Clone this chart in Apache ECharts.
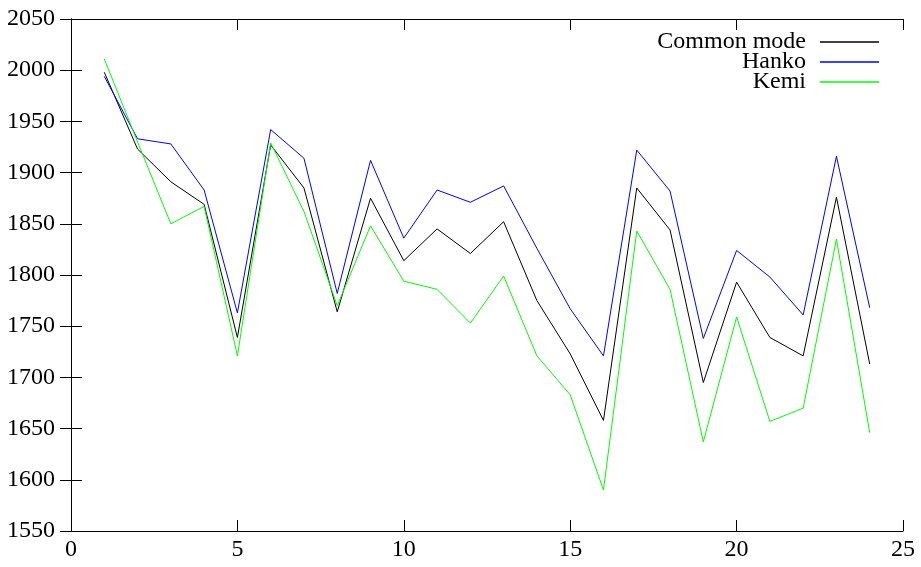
<!DOCTYPE html>
<html>
<head>
<meta charset="utf-8">
<script src="https://cdn.jsdelivr.net/npm/echarts@6/dist/echarts.min.js"></script>
<style>
  html, body { margin: 0; padding: 0; background: #fff; }
  #chart { width: 921px; height: 567px; }
</style>
</head>
<body>
<div id="chart"></div>
<script>
// station index along x
const xs = [1, 2, 3, 4, 5, 6, 7, 8, 9, 10, 11, 12, 13, 14, 15, 16, 17, 18, 19, 20, 21, 22, 23, 24];

const commonMode = [1998, 1923, 1891, 1869, 1739, 1927, 1885, 1764, 1875, 1814, 1845, 1821,
                    1852, 1775, 1723, 1658, 1885, 1844, 1695, 1793, 1739, 1721, 1876, 1713];
const hanko      = [1994, 1933, 1928, 1883, 1763, 1942, 1914, 1782, 1912, 1836, 1883, 1871,
                    1887, 1826, 1767, 1721, 1922, 1882, 1738, 1824, 1798, 1761, 1916, 1768];
const kemi       = [2011, 1930, 1850, 1867, 1721, 1929, 1862, 1770, 1848, 1794, 1786, 1753,
                    1799, 1721, 1683, 1590, 1843, 1786, 1637, 1759, 1657, 1670, 1835, 1646];

const FONT = '"Liberation Serif", "DejaVu Serif", serif';

function pairs(vals) {
    return xs.map((x, i) => [x, vals[i]]);
}

function mkSeries(name, vals, color) {
    return {
        name: name,
        type: 'line',
        data: pairs(vals),
        symbol: 'none',
        lineStyle: { color: color, width: 1 },
        itemStyle: { color: color },
        animation: false
    };
}

const plain = v => String(v);
const axisLine = { show: true, lineStyle: { color: '#000', width: 1 } };
const tickIn = { show: true, inside: true, length: 11, lineStyle: { color: '#000', width: 1 } };

const option = {
    backgroundColor: '#fff',
    animation: false,
    grid: { left: 71, right: 18, top: 19, bottom: 36 },
    legend: {
        orient: 'vertical',
        right: 37,
        top: 25,
        align: 'right',
        icon: 'rect',
        itemWidth: 59,
        itemHeight: 1.5,
        itemGap: -4,
        textStyle: { fontFamily: FONT, fontSize: 24, color: '#000', lineHeight: 20, padding: [0, 9, 0, 0] },
        data: ['Common mode', 'Hanko', 'Kemi']
    },
    xAxis: [
        {
            type: 'value', min: 0, max: 25, interval: 5, position: 'bottom',
            axisLine: axisLine, axisTick: tickIn, splitLine: { show: false },
            axisLabel: { fontFamily: FONT, fontSize: 24, color: '#000', margin: 7, formatter: plain }
        },
        {
            type: 'value', min: 0, max: 25, interval: 5, position: 'top',
            axisLine: axisLine, axisTick: tickIn, splitLine: { show: false },
            axisLabel: { show: false }
        }
    ],
    yAxis: [
        {
            type: 'value', min: 1550, max: 2050, interval: 50, position: 'left',
            axisLine: axisLine, axisTick: tickIn, splitLine: { show: false },
            axisLabel: { fontFamily: FONT, fontSize: 24, color: '#000', margin: 16, formatter: plain }
        },
        {
            type: 'value', min: 1550, max: 2050, interval: 50, position: 'right',
            axisLine: axisLine, axisTick: tickIn, splitLine: { show: false },
            axisLabel: { show: false }
        }
    ],
    series: [
        mkSeries('Common mode', commonMode, '#000000'),
        mkSeries('Hanko', hanko, '#0000ff'),
        mkSeries('Kemi', kemi, '#00ff00')
    ]
};

const chart = echarts.init(document.getElementById('chart'), null, { renderer: 'canvas' });
chart.setOption(option);
</script>
</body>
</html>
